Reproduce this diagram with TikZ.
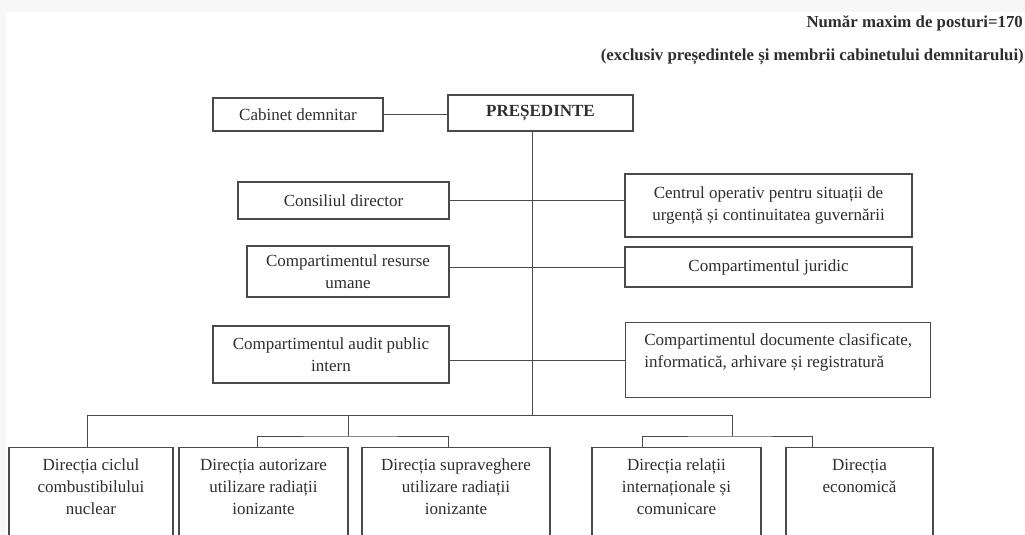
\documentclass[tikz,border=0pt]{standalone}
\usepackage{fontspec}
\setmainfont{Liberation Serif}
\definecolor{bggray}{HTML}{F7F7F7}
\definecolor{ink}{HTML}{2E2E2E}
\definecolor{rulegray}{HTML}{4A4A4A}
\begin{document}
\begin{tikzpicture}[x=1pt,y=-1pt,
  box/.style={draw=rulegray,line width=1.4pt,text=ink,align=center,inner sep=0pt,
    font=\fontsize{17}{22}\selectfont},
  topbox/.style={box,anchor=north,text height=#1,text depth=103pt-#1},
  link/.style={draw=rulegray,line width=1pt},
  head/.style={anchor=east,text=ink,inner sep=0pt,font=\bfseries\fontsize{16.8}{20}\selectfont}]
 \useasboundingbox (0,0) rectangle (1025,535);
 \clip (0,0) rectangle (1025,535);
 \fill[bggray] (0,0) rectangle (1025,535);
 \fill[white] (6,12) rectangle (1025,535);
 \node[head] (nr) at (1023,23) {Număr maxim de posturi=170};
 \node[head] (excl) at (1024,57) {(exclusiv președintele și membrii cabinetului demnitarului)};
 \node[box,minimum width=170pt,minimum height=33pt] (cab) at (298,114.5) {Cabinet demnitar};
 \node[box,minimum width=185pt,minimum height=36pt,font=\bfseries\fontsize{17}{22}\selectfont] (pres) at (540.5,113) {PREȘEDINTE};
 \node[box,minimum width=211pt,minimum height=37pt] (cons) at (343.5,200.5) {Consiliul director};
 \node[box,minimum width=287pt,minimum height=63pt] (cent) at (768.5,205.5) {Centrul operativ pentru situații de\\urgență și continuitatea guvernării};
 \node[box,minimum width=202pt,minimum height=51pt] (rum) at (348,271.5) {Compartimentul resurse\\umane};
 \node[box,minimum width=287pt,minimum height=40pt] (jur) at (768.5,267) {Compartimentul juridic};
 \node[box,minimum width=236pt,minimum height=57pt] (aud) at (331,354.5) {Compartimentul audit public\\intern};
 \node[box,anchor=north west,align=left,minimum width=305pt,inner xsep=12pt,text height=45pt,text depth=30pt] (doc) at (625,322) {Compartimentul documente clasificate,\\informatică, arhivare și registratură};
 \node[topbox=67pt,minimum width=164pt] (d1) at (91,447) {Direcția ciclul\\combustibilului\\nuclear};
 \node[topbox=67pt,minimum width=169pt] (d2) at (263.5,447) {Direcția autorizare\\utilizare radiații\\ionizante};
 \node[topbox=67pt,minimum width=188pt] (d3) at (456,447) {Direcția supraveghere\\utilizare radiații\\ionizante};
 \node[topbox=67pt,minimum width=169pt] (d4) at (676.5,447) {Direcția relații\\internaționale și\\comunicare};
 \node[topbox=45pt,minimum width=147pt] (d5) at (859.5,447) {Direcția\\economică};
 \coordinate (bus) at (532,415);
 \coordinate (busL) at (87,415);
 \coordinate (busR) at (732,415);
 \coordinate (subL) at (348,436);
 \coordinate (subR) at (732,436);
 \draw[link] (cab.east) -- (cab.east -| pres.west);
 \draw[link] (pres.south -| bus) -- (bus);
 \draw[link] (cons.east) -- (cons.east -| cent.west);
 \draw[link] (rum.east |- jur.west) -- (jur.west);
 \draw[link] (aud.east |- doc.west) -- (doc.west);
 \draw[link] (busL |- d1.north) -- (busL) -- (busR) -- (subR);
 \draw[link] (subL |- bus) -- (subL);
 \draw[link] ([xshift=-6.5pt]d2.north) |- (subL) -| ([xshift=-8pt]d3.north);
 \draw[link] ([xshift=-34.5pt]d4.north) |- (subR) -| ([xshift=-47.5pt]d5.north);
\end{tikzpicture}
\end{document}
